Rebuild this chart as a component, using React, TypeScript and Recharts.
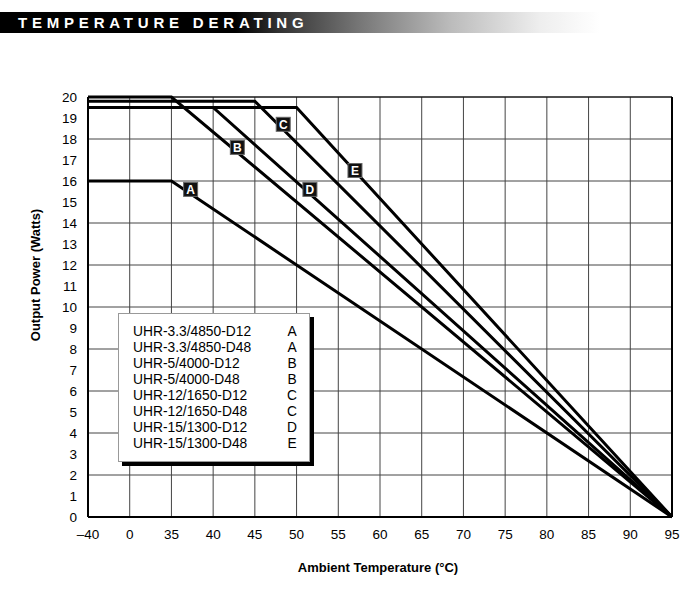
import React from 'react';
import { LineChart, Line, XAxis, YAxis, CartesianGrid, ReferenceLine, ReferenceDot } from 'recharts';

// axis is broken after 0 °C, every tick gets the same width
const tempTicks = [-40, 0, 35, 40, 45, 50, 55, 60, 65, 70, 75, 80, 85, 90, 95];
const tempLabels = ['–40', '0', '35', '40', '45', '50', '55', '60', '65', '70', '75', '80', '85', '90', '95'];
const powerTicks = [0, 1, 2, 3, 4, 5, 6, 7, 8, 9, 10, 11, 12, 13, 14, 15, 16, 17, 18, 19, 20];

// [temperature °C, output W]
const curveA = [[-40, 16], [35, 16], [95, 0]];
const curveB = [[-40, 20], [35, 20], [95, 0]];
const curveC = [[-40, 19.8], [45, 19.8], [95, 0]];
const curveD = [[-40, 19.5], [40, 19.5], [95, 0]];
const curveE = [[-40, 19.5], [50, 19.5], [95, 0]];

const curveNames = ['A', 'B', 'C', 'D', 'E'];
const curves = [curveA, curveB, curveC, curveD, curveE];
// where the letter tags sit on each curve
const tagTemps = [37.3, 42.9, 48.4, 51.6, 57];
const tagPower = [15.6, 17.6, 18.7, 15.6, 16.5];

const models = [
  'UHR-3.3/4850-D12', 'UHR-3.3/4850-D48', 'UHR-5/4000-D12', 'UHR-5/4000-D48',
  'UHR-12/1650-D12', 'UHR-12/1650-D48', 'UHR-15/1300-D12', 'UHR-15/1300-D48',
];
const modelCurve = ['A', 'A', 'B', 'B', 'C', 'C', 'D', 'E'];

function tempToPos(t: number) {
  if (t <= 0) return ((t + 40) / 40);
  if (t <= 35) return 1 + t / 35;
  return 2 + (t - 35) / 5;
}

const toData = (pts: number[][]) => pts.map(([t, w]) => ({ pos: tempToPos(t), watts: w }));

const font = '"Liberation Sans", Arial, Helvetica, sans-serif';

function Tag(props: any) {
  const { cx, cy, letter } = props;
  return (
    <g>
      <rect x={cx - 7} y={cy - 7} width={14} height={14} fill="#111" stroke="#666" strokeWidth={1} />
      <text x={cx} y={cy + 4.5} textAnchor="middle" fill="#fff" fontSize={12} fontWeight="bold" fontFamily={font}>
        {letter}
      </text>
    </g>
  );
}

export default function App() {
  return (
    <div style={{ position: 'absolute', left: 0, top: 0, width: 683, height: 592, background: '#fff', fontFamily: font, overflow: 'hidden' }}>
      <div
        style={{
          position: 'absolute', left: 0, top: 12, width: 600, height: 21,
          background: 'linear-gradient(to right, #000 0px, #000 235px, #333 280px, #777 360px, #bbb 450px, #eee 540px, #fff 600px)',
        }}
      />
      <div
        style={{
          position: 'absolute', left: 18, top: 13, height: 20, lineHeight: '20px',
          color: '#fff', fontWeight: 'bold', fontSize: 15, letterSpacing: 4.8,
        }}
      >
        TEMPERATURE DERATING
      </div>

      <LineChart width={683} height={592} margin={{ top: 97, right: 11, bottom: 45, left: 0 }}>
        <CartesianGrid stroke="#444" strokeWidth={1} />
        <XAxis
          dataKey="pos"
          type="number"
          domain={[0, 14]}
          ticks={tempTicks.map((_, i) => i)}
          tickFormatter={(v) => tempLabels[v]}
          height={30}
          tickSize={0}
          tickMargin={12}
          tick={{ fill: '#000', fontSize: 13.5, fontFamily: font }}
          axisLine={{ stroke: '#000', strokeWidth: 2 }}
          allowDuplicatedCategory={false}
        />
        <YAxis
          type="number"
          domain={[0, 20]}
          ticks={powerTicks}
          width={88}
          tickSize={0}
          tickMargin={11}
          tick={{ fill: '#000', fontSize: 13.5, fontFamily: font }}
          axisLine={{ stroke: '#000', strokeWidth: 2 }}
        />
        <ReferenceLine x={14} stroke="#000" strokeWidth={2} />
        <ReferenceLine y={20} stroke="#000" strokeWidth={1} />
        {curves.map((c, i) => (
          <Line
            key={curveNames[i]}
            data={toData(c)}
            dataKey="watts"
            type="linear"
            stroke="#000"
            strokeWidth={3}
            dot={false}
            isAnimationActive={false}
          />
        ))}
        {curveNames.map((n, i) => (
          <ReferenceDot
            key={'tag' + n}
            x={tempToPos(tagTemps[i])}
            y={tagPower[i]}
            shape={(p: any) => <Tag {...p} letter={n} />}
          />
        ))}
      </LineChart>

      <div
        style={{
          position: 'absolute', left: 35, top: 275, transform: 'translate(-50%, -50%) rotate(-90deg)',
          whiteSpace: 'nowrap', fontWeight: 'bold', fontSize: 13, color: '#000',
        }}
      >
        Output Power (Watts)
      </div>
      <div
        style={{
          position: 'absolute', left: 378, top: 567, transform: 'translate(-50%, -50%)',
          whiteSpace: 'nowrap', fontWeight: 'bold', fontSize: 13, color: '#000',
        }}
      >
        Ambient Temperature (°C)
      </div>

      <div
        style={{
          position: 'absolute', left: 118, top: 313, width: 192, height: 149, boxSizing: 'border-box',
          background: '#fff', border: '1px solid #999', boxShadow: '4px 4px 0 #000', paddingTop: 10,
        }}
      >
        {models.map((m, i) => (
          <div key={m} style={{ position: 'relative', height: 16, lineHeight: '16px', fontSize: 13.8, color: '#000' }}>
            <span style={{ position: 'absolute', left: 14 }}>{m}</span>
            <span style={{ position: 'absolute', left: 167, width: 12, textAlign: 'center' }}>{modelCurve[i]}</span>
          </div>
        ))}
      </div>
    </div>
  );
}
